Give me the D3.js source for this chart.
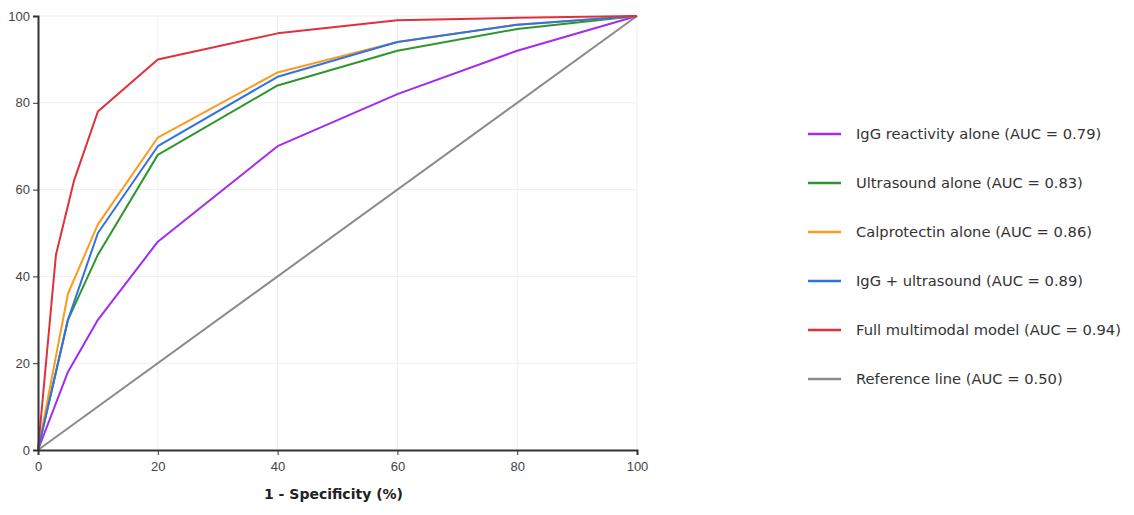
<!DOCTYPE html>
<html>
<head>
<meta charset="utf-8">
<script src="https://cdn.jsdelivr.net/npm/d3@7"></script>
<style>
body { margin: 0; background: #fff; }
svg { font-family: "DejaVu Sans", sans-serif; }
.axis text { fill: #444; font-size: 13px; }
.axis path, .axis line { stroke: #333; }
</style>
</head>
<body>
<svg id="chart"></svg>
<script>
var seriesNames = [
    "IgG reactivity alone (AUC = 0.79)",
    "Ultrasound alone (AUC = 0.83)",
    "Calprotectin alone (AUC = 0.86)",
    "IgG + ultrasound (AUC = 0.89)",
    "Full multimodal model (AUC = 0.94)",
    "Reference line (AUC = 0.50)"
]
var seriesColors = ["#a52af0", "#2e962e", "#ff9a1a", "#2f72e3", "#e0303c", "#8a8a8a"]

var iggX = [0, 5, 10, 20, 40, 60, 80, 100]
var iggY = [0, 18, 30, 48, 70, 82, 92, 100]
var usX = [0, 5, 10, 20, 40, 60, 80, 100]
var usY = [0, 30, 45, 68, 84, 92, 97, 100]
var calX = [0, 5, 10, 20, 40, 60, 80, 100]
var calY = [0, 36, 52, 72, 87, 94, 98, 100]
var comboX = [0, 5, 10, 20, 40, 60, 80, 100]
var comboY = [0, 30, 50, 70, 86, 94, 98, 100]
var fullX = [0, 3, 6, 10, 20, 40, 60, 80, 100]
var fullY = [0, 45, 62, 78, 90, 96, 99, 99.6, 100]
var refX = [0, 100]
var refY = [0, 100]

var xTicks = [0, 20, 40, 60, 80, 100]
var yTicks = [0, 20, 40, 60, 80, 100]

var screen = {width: 1134, height: 515}
var margins = {top: 16, left: 38}
var width = 599
var height = 434

var series = [
    {x: iggX, y: iggY},
    {x: usX, y: usY},
    {x: calX, y: calY},
    {x: comboX, y: comboY},
    {x: fullX, y: fullY},
    {x: refX, y: refY}
]

var svg = d3.select("#chart")
    .attr("width", screen.width)
    .attr("height", screen.height)

var xScale = d3.scaleLinear().domain([0, 100]).range([0, width])
var yScale = d3.scaleLinear().domain([0, 100]).range([height, 0])

var graph = svg.append("g")
    .attr("transform", "translate(" + margins.left + "," + margins.top + ")")

// faint grid
graph.append("g").selectAll("line")
    .data(xTicks.slice(1))
    .enter().append("line")
    .attr("x1", d => xScale(d)).attr("x2", d => xScale(d))
    .attr("y1", 0).attr("y2", height)
    .attr("stroke", "#eeeeee")
graph.append("g").selectAll("line")
    .data(yTicks.slice(1))
    .enter().append("line")
    .attr("x1", 0).attr("x2", width)
    .attr("y1", d => yScale(d)).attr("y2", d => yScale(d))
    .attr("stroke", "#eeeeee")

var line = d3.line()
    .x(d => xScale(d[0]))
    .y(d => yScale(d[1]))

// reference first so coloured curves sit on top
var order = [5, 0, 1, 2, 3, 4]
order.forEach(function(i) {
    var pts = series[i].x.map((v, j) => [v, series[i].y[j]])
    graph.append("path")
        .datum(pts)
        .attr("d", line)
        .attr("fill", "none")
        .attr("stroke", seriesColors[i])
        .attr("stroke-width", 2)
        .attr("stroke-linejoin", "round")
})

var xAxis = graph.append("g")
    .attr("class", "axis")
    .attr("transform", "translate(0," + height + ")")
    .call(d3.axisBottom(xScale).tickValues(xTicks).tickSize(5).tickPadding(7))
xAxis.select(".domain").attr("stroke-width", 2)

var yAxis = graph.append("g")
    .attr("class", "axis")
    .call(d3.axisLeft(yScale).tickValues(yTicks).tickSize(5).tickPadding(3))
yAxis.select(".domain").attr("stroke-width", 2)

svg.append("text")
    .attr("x", margins.left + width / 2 - 4)
    .attr("y", 499)
    .attr("text-anchor", "middle")
    .attr("font-size", 14)
    .attr("font-weight", "bold")
    .attr("fill", "#222")
    .text("1 - Specificity (%)")

var legend = svg.append("g")
    .attr("transform", "translate(808,134)")

var rows = legend.selectAll("g")
    .data(seriesNames)
    .enter().append("g")
    .attr("transform", (d, i) => "translate(0," + i * 49 + ")")

rows.append("line")
    .attr("x1", 0).attr("x2", 33)
    .attr("stroke", (d, i) => seriesColors[i])
    .attr("stroke-width", 2.5)

rows.append("text")
    .attr("x", 48)
    .attr("dy", "0.35em")
    .attr("font-size", 14.7)
    .attr("fill", "#333")
    .text(d => d)
</script>
</body>
</html>
